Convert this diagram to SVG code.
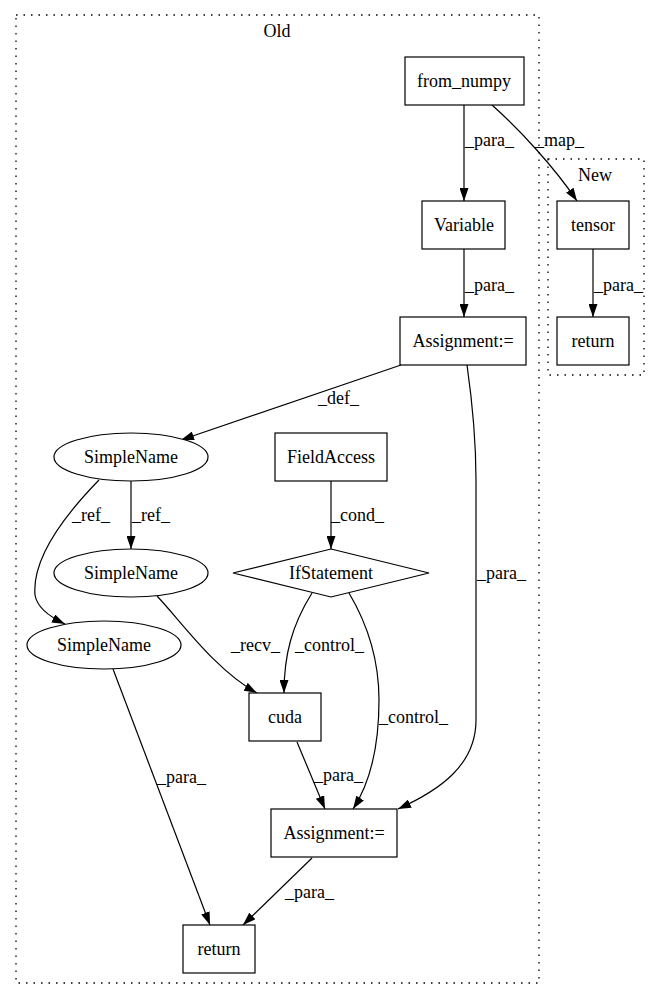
<svg xmlns="http://www.w3.org/2000/svg" width="657" height="1000" viewBox="0 0 657 1000">
<style>
text{font-family:"Liberation Serif","Times New Roman",serif;font-size:18px;fill:#000}
.n{fill:#fff;stroke:#000;stroke-width:1.2}
.c{fill:none;stroke:#000;stroke-width:1.3;stroke-dasharray:1.5 6}
.e{fill:none;stroke:#000;stroke-width:1.2;marker-end:url(#a)}
.m{text-anchor:middle}
</style>
<defs>
<marker id="a" viewBox="0 0 13 9" refX="13" refY="4.5" markerWidth="13" markerHeight="9" markerUnits="userSpaceOnUse" orient="auto">
<path d="M0,0 L13,4.5 L0,9 z" fill="#000"/>
</marker>
</defs>
<rect width="657" height="1000" fill="#fff"/>
<g id="cluster_old">
<rect class="c" x="16" y="15" width="523" height="968"/>
<text class="m" x="277" y="37">Old</text>
</g>
<g id="cluster_new">
<rect class="c" x="548" y="159" width="96" height="216"/>
<text class="m" x="595" y="181">New</text>
</g>
<g id="edges">
<path class="e" d="M464,105 L464,201"/>
<text x="465" y="146">_para_</text>
<path class="e" d="M492,105 C520,130 555,168 577,201"/>
<text x="535" y="146">_map_</text>
<path class="e" d="M464,249 L464,317"/>
<text x="465" y="291">_para_</text>
<path class="e" d="M593,249 L593,317"/>
<text x="594" y="291">_para_</text>
<path class="e" d="M401,365 L181,440"/>
<text x="318" y="404">_def_</text>
<path class="e" d="M467,365 C472,400 476,440 476,480 L476,720 C476,765 440,790 398,809"/>
<text x="477" y="579">_para_</text>
<path class="e" d="M131,481 L131,549"/>
<text x="132" y="521">_ref_</text>
<path class="e" d="M99,480 C60,520 32,560 35,595 C37,607 50,617 65,624"/>
<text x="72" y="521">_ref_</text>
<path class="e" d="M331,481 L331,549"/>
<text x="331" y="521">_cond_</text>
<path class="e" d="M157,596 C180,620 215,670 257,693"/>
<text x="231" y="651">_recv_</text>
<path class="e" d="M312,593 C292,625 284,655 284,693"/>
<text x="295" y="651">_control_</text>
<path class="e" d="M349,593 C368,625 379,660 379,700 C379,740 372,780 353,809"/>
<text x="379" y="723">_control_</text>
<path class="e" d="M297,742 L325,809"/>
<text x="314" y="781">_para_</text>
<path class="e" d="M113,669 L210,925"/>
<text x="157" y="783">_para_</text>
<path class="e" d="M312,858 L243,925"/>
<text x="285" y="898">_para_</text>
</g>
<g id="from_numpy"><rect class="n" x="405" y="57" width="119" height="48"/><text class="m" x="464" y="87">from_numpy</text></g>
<g id="Variable"><rect class="n" x="422" y="201" width="83" height="48"/><text class="m" x="464" y="231">Variable</text></g>
<g id="Assignment1"><rect class="n" x="400" y="317" width="126" height="48"/><text class="m" x="463" y="347">Assignment:=</text></g>
<g id="tensor"><rect class="n" x="557" y="201" width="72" height="48"/><text class="m" x="593" y="231">tensor</text></g>
<g id="return_new"><rect class="n" x="557" y="317" width="72" height="48"/><text class="m" x="593" y="347">return</text></g>
<g id="SimpleName1"><ellipse class="n" cx="131" cy="457" rx="77" ry="24"/><text class="m" x="131" y="463">SimpleName</text></g>
<g id="FieldAccess"><rect class="n" x="275" y="433" width="112" height="48"/><text class="m" x="331" y="463">FieldAccess</text></g>
<g id="SimpleName2"><ellipse class="n" cx="131" cy="573" rx="77" ry="24"/><text class="m" x="131" y="579">SimpleName</text></g>
<g id="IfStatement"><polygon class="n" points="331,549 429,573 331,597 233,573"/><text class="m" x="331" y="579">IfStatement</text></g>
<g id="SimpleName3"><ellipse class="n" cx="104" cy="645" rx="77" ry="24"/><text class="m" x="104" y="651">SimpleName</text></g>
<g id="cuda"><rect class="n" x="249" y="693" width="72" height="48"/><text class="m" x="285" y="723">cuda</text></g>
<g id="Assignment2"><rect class="n" x="271" y="809" width="126" height="48"/><text class="m" x="334" y="839">Assignment:=</text></g>
<g id="return_old"><rect class="n" x="183" y="925" width="72" height="48"/><text class="m" x="219" y="955">return</text></g>
</svg>
